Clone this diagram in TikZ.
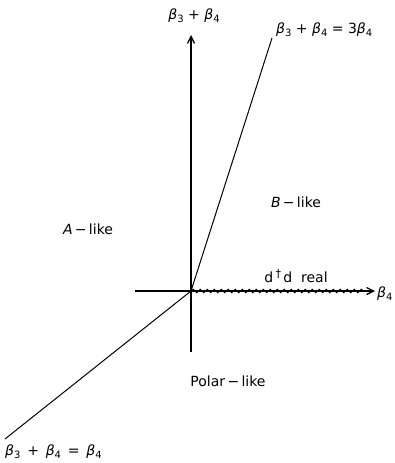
\documentclass[tikz,border=0pt]{standalone}
\usepackage{fontspec}
\setmainfont{DejaVu Sans}
\usetikzlibrary{decorations.pathmorphing,arrows.meta}
\newcommand{\bt}{\textit{β}}
\newcommand{\sbs}[1]{\raisebox{-0.35ex}{\fontsize{10}{12}\selectfont #1}}
\begin{document}
\begin{tikzpicture}[x=1pt,y=-1pt,
  axis/.style={line width=1.3pt,-{Straight Barb[length=7pt,width=7pt,line width=1.3pt]}},
  bline/.style={line width=1pt},
  lab/.style={font=\fontsize{14}{16}\selectfont, inner sep=0pt},
  wave/.style={line width=0.9pt,decorate,decoration={snake,amplitude=1.8pt,segment length=7pt}}]
\useasboundingbox (0,0) rectangle (394,463);
\coordinate (O) at (191,291);
\coordinate (xl) at (135,291);
\coordinate (xr) at (375,291);
\coordinate (yb) at (191,352);
\coordinate (yt) at (191,35);
\coordinate (s1) at (272,38);
\coordinate (s2) at (5,439);
\coordinate (we) at (366,291);
\draw[axis] (xl) -- (xr);
\draw[axis] (yb) -- (yt);
\draw[bline] (O) -- (s1);
\draw[bline] (O) -- (s2);
\draw[wave] (O) -- (we);
\node[lab] (ly) at (194,16) {\bt\sbs{3} + \bt\sbs{4}};
\node[lab,anchor=west] (ls1) at (276,30) {\bt\sbs{3} + \bt\sbs{4} = 3\bt\sbs{4}};
\node[lab,anchor=west] (lx) at (377,294) {\bt\sbs{4}};
\node[lab,anchor=west] (ls2) at (5,452) {\bt\sbs{3} \,+\, \bt\sbs{4} \,=\, \bt\sbs{4}};
\node[lab] (lB) at (296,202) {\textit{B}\,−\,like};
\node[lab] (lA) at (88,229) {\textit{A}\,−\,like};
\node[lab] (ld) at (296,276) {d\,\raisebox{0.6ex}{\fontsize{11}{12}\selectfont †}\,d\ \ real};
\node[lab] (lP) at (228,381) {Polar\,−\,like};
\end{tikzpicture}
\end{document}
